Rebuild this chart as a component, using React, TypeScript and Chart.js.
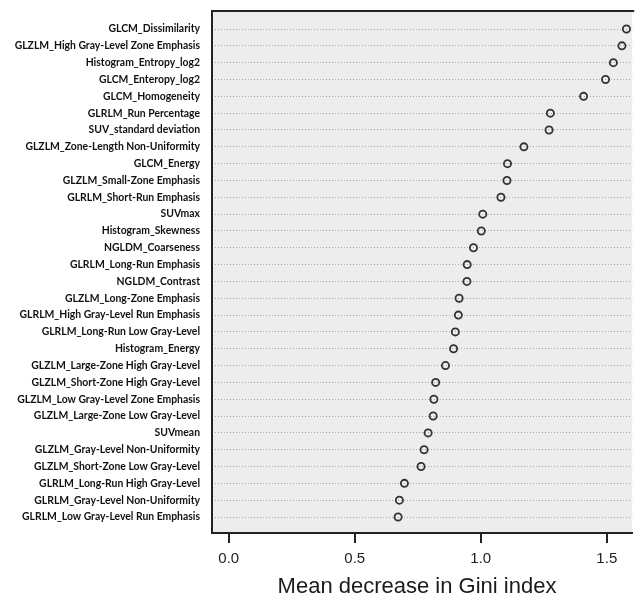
import React, { useEffect, useRef } from "react";
import { Chart, registerables } from "chart.js";

Chart.register(...registerables);

const features: string[] = [
  "GLCM_Dissimilarity",
  "GLZLM_High Gray-Level Zone Emphasis",
  "Histogram_Entropy_log2",
  "GLCM_Enteropy_log2",
  "GLCM_Homogeneity",
  "GLRLM_Run Percentage",
  "SUV_standard deviation",
  "GLZLM_Zone-Length Non-Uniformity",
  "GLCM_Energy",
  "GLZLM_Small-Zone Emphasis",
  "GLRLM_Short-Run Emphasis",
  "SUVmax",
  "Histogram_Skewness",
  "NGLDM_Coarseness",
  "GLRLM_Long-Run Emphasis",
  "NGLDM_Contrast",
  "GLZLM_Long-Zone Emphasis",
  "GLRLM_High Gray-Level Run Emphasis",
  "GLRLM_Long-Run Low Gray-Level",
  "Histogram_Energy",
  "GLZLM_Large-Zone High Gray-Level",
  "GLZLM_Short-Zone High Gray-Level",
  "GLZLM_Low Gray-Level Zone Emphasis",
  "GLZLM_Large-Zone Low Gray-Level",
  "SUVmean",
  "GLZLM_Gray-Level Non-Uniformity",
  "GLZLM_Short-Zone Low Gray-Level",
  "GLRLM_Long-Run High Gray-Level",
  "GLRLM_Gray-Level Non-Uniformity",
  "GLRLM_Low Gray-Level Run Emphasis",
];

const giniValues: number[] = [
  1.578, 1.56, 1.526, 1.495, 1.408, 1.276, 1.271, 1.171, 1.106, 1.104,
  1.08, 1.008, 1.002, 0.971, 0.946, 0.945, 0.914, 0.911, 0.899, 0.892,
  0.86, 0.821, 0.814, 0.811, 0.791, 0.775, 0.763, 0.697, 0.677, 0.672,
];

const xTicks: number[] = [0, 0.5, 1.0, 1.5];
const xTitle = "Mean decrease in Gini index";

const boxPlugin = {
  id: "boxPlugin",
  beforeDraw(chart: any) {
    const { ctx, chartArea } = chart;
    ctx.save();
    ctx.fillStyle = "#ededed";
    ctx.fillRect(chartArea.left, chartArea.top, chartArea.right - chartArea.left, chartArea.bottom - chartArea.top);
    ctx.restore();
  },
  afterDraw(chart: any) {
    const { ctx, chartArea } = chart;
    ctx.save();
    ctx.strokeStyle = "#222";
    ctx.lineWidth = 2;
    ctx.beginPath();
    ctx.moveTo(chartArea.left, chartArea.bottom);
    ctx.lineTo(chartArea.left, chartArea.top);
    ctx.lineTo(chartArea.right + 2, chartArea.top);
    ctx.stroke();
    ctx.fillStyle = "#1a1a1a";
    ctx.font = "22px 'Liberation Sans', Arial, sans-serif";
    ctx.textAlign = "center";
    ctx.textBaseline = "alphabetic";
    ctx.fillText(xTitle, 417, 593);
    ctx.restore();
  },
};

export default function App() {
  const ref = useRef<HTMLCanvasElement | null>(null);
  useEffect(() => {
    if (!ref.current) return;
    const chart = new Chart(ref.current, {
      type: "scatter",
      data: {
        datasets: [
          {
            data: giniValues.map((v, i) => ({ x: v, y: i })),
            pointStyle: "circle",
            pointRadius: 3.6,
            pointBorderWidth: 1.8,
            pointBorderColor: "#333",
            pointBackgroundColor: "rgba(0,0,0,0)",
            showLine: false,
          },
        ],
      },
      options: {
        responsive: false,
        animation: false,
        layout: { padding: { top: 11, right: 0, bottom: 0, left: 0 } },
        plugins: { legend: { display: false }, tooltip: { enabled: false } },
        scales: {
          x: {
            type: "linear",
            min: -0.0665,
            max: 1.6008,
            afterBuildTicks: (s: any) => {
              s.ticks = xTicks.map((v) => ({ value: v }));
            },
            afterFit: (s: any) => {
              s.height = 63;
              s.paddingLeft = 0;
              s.paddingRight = 0;
            },
            ticks: {
              callback: (v: any) => Number(v).toFixed(1),
              color: "#222",
              font: { family: "'Liberation Sans', Arial, sans-serif", size: 15 },
              padding: 7,
              maxRotation: 0,
            },
            grid: {
              display: true,
              drawOnChartArea: false,
              drawTicks: true,
              tickLength: 10,
              color: "#222",
              lineWidth: 2,
            },
            border: { display: true, color: "#222", width: 2 },
          },
          y: {
            type: "linear",
            reverse: true,
            min: -1.072,
            max: 29.95,
            afterBuildTicks: (s: any) => {
              s.ticks = features.map((_, i) => ({ value: i }));
            },
            afterFit: (s: any) => {
              s.width = 212;
              s.paddingTop = 0;
              s.paddingBottom = 0;
            },
            ticks: {
              autoSkip: false,
              callback: (v: any) => features[Math.round(Number(v))] ?? "",
              color: "#111",
              font: { family: "Lato, 'Open Sans', sans-serif", size: 10.4, weight: "bold" },
              padding: 12,
            },
            grid: {
              display: true,
              drawTicks: false,
              color: "#a8a8a8",
              lineWidth: 1,
            },
            border: { display: false, dash: [1, 2] },
          },
        },
      } as any,
      plugins: [boxPlugin],
    });
    // dotted horizontal guide lines
    (chart.options.scales as any).y.grid.borderDash = [1, 2];
    chart.update();
    return () => chart.destroy();
  }, []);
  return (
    <div style={{ position: "absolute", left: 0, top: 0, width: 638, height: 596, background: "#fff" }}>
      <canvas ref={ref} width={638} height={596} style={{ width: 638, height: 596 }} />
    </div>
  );
}
